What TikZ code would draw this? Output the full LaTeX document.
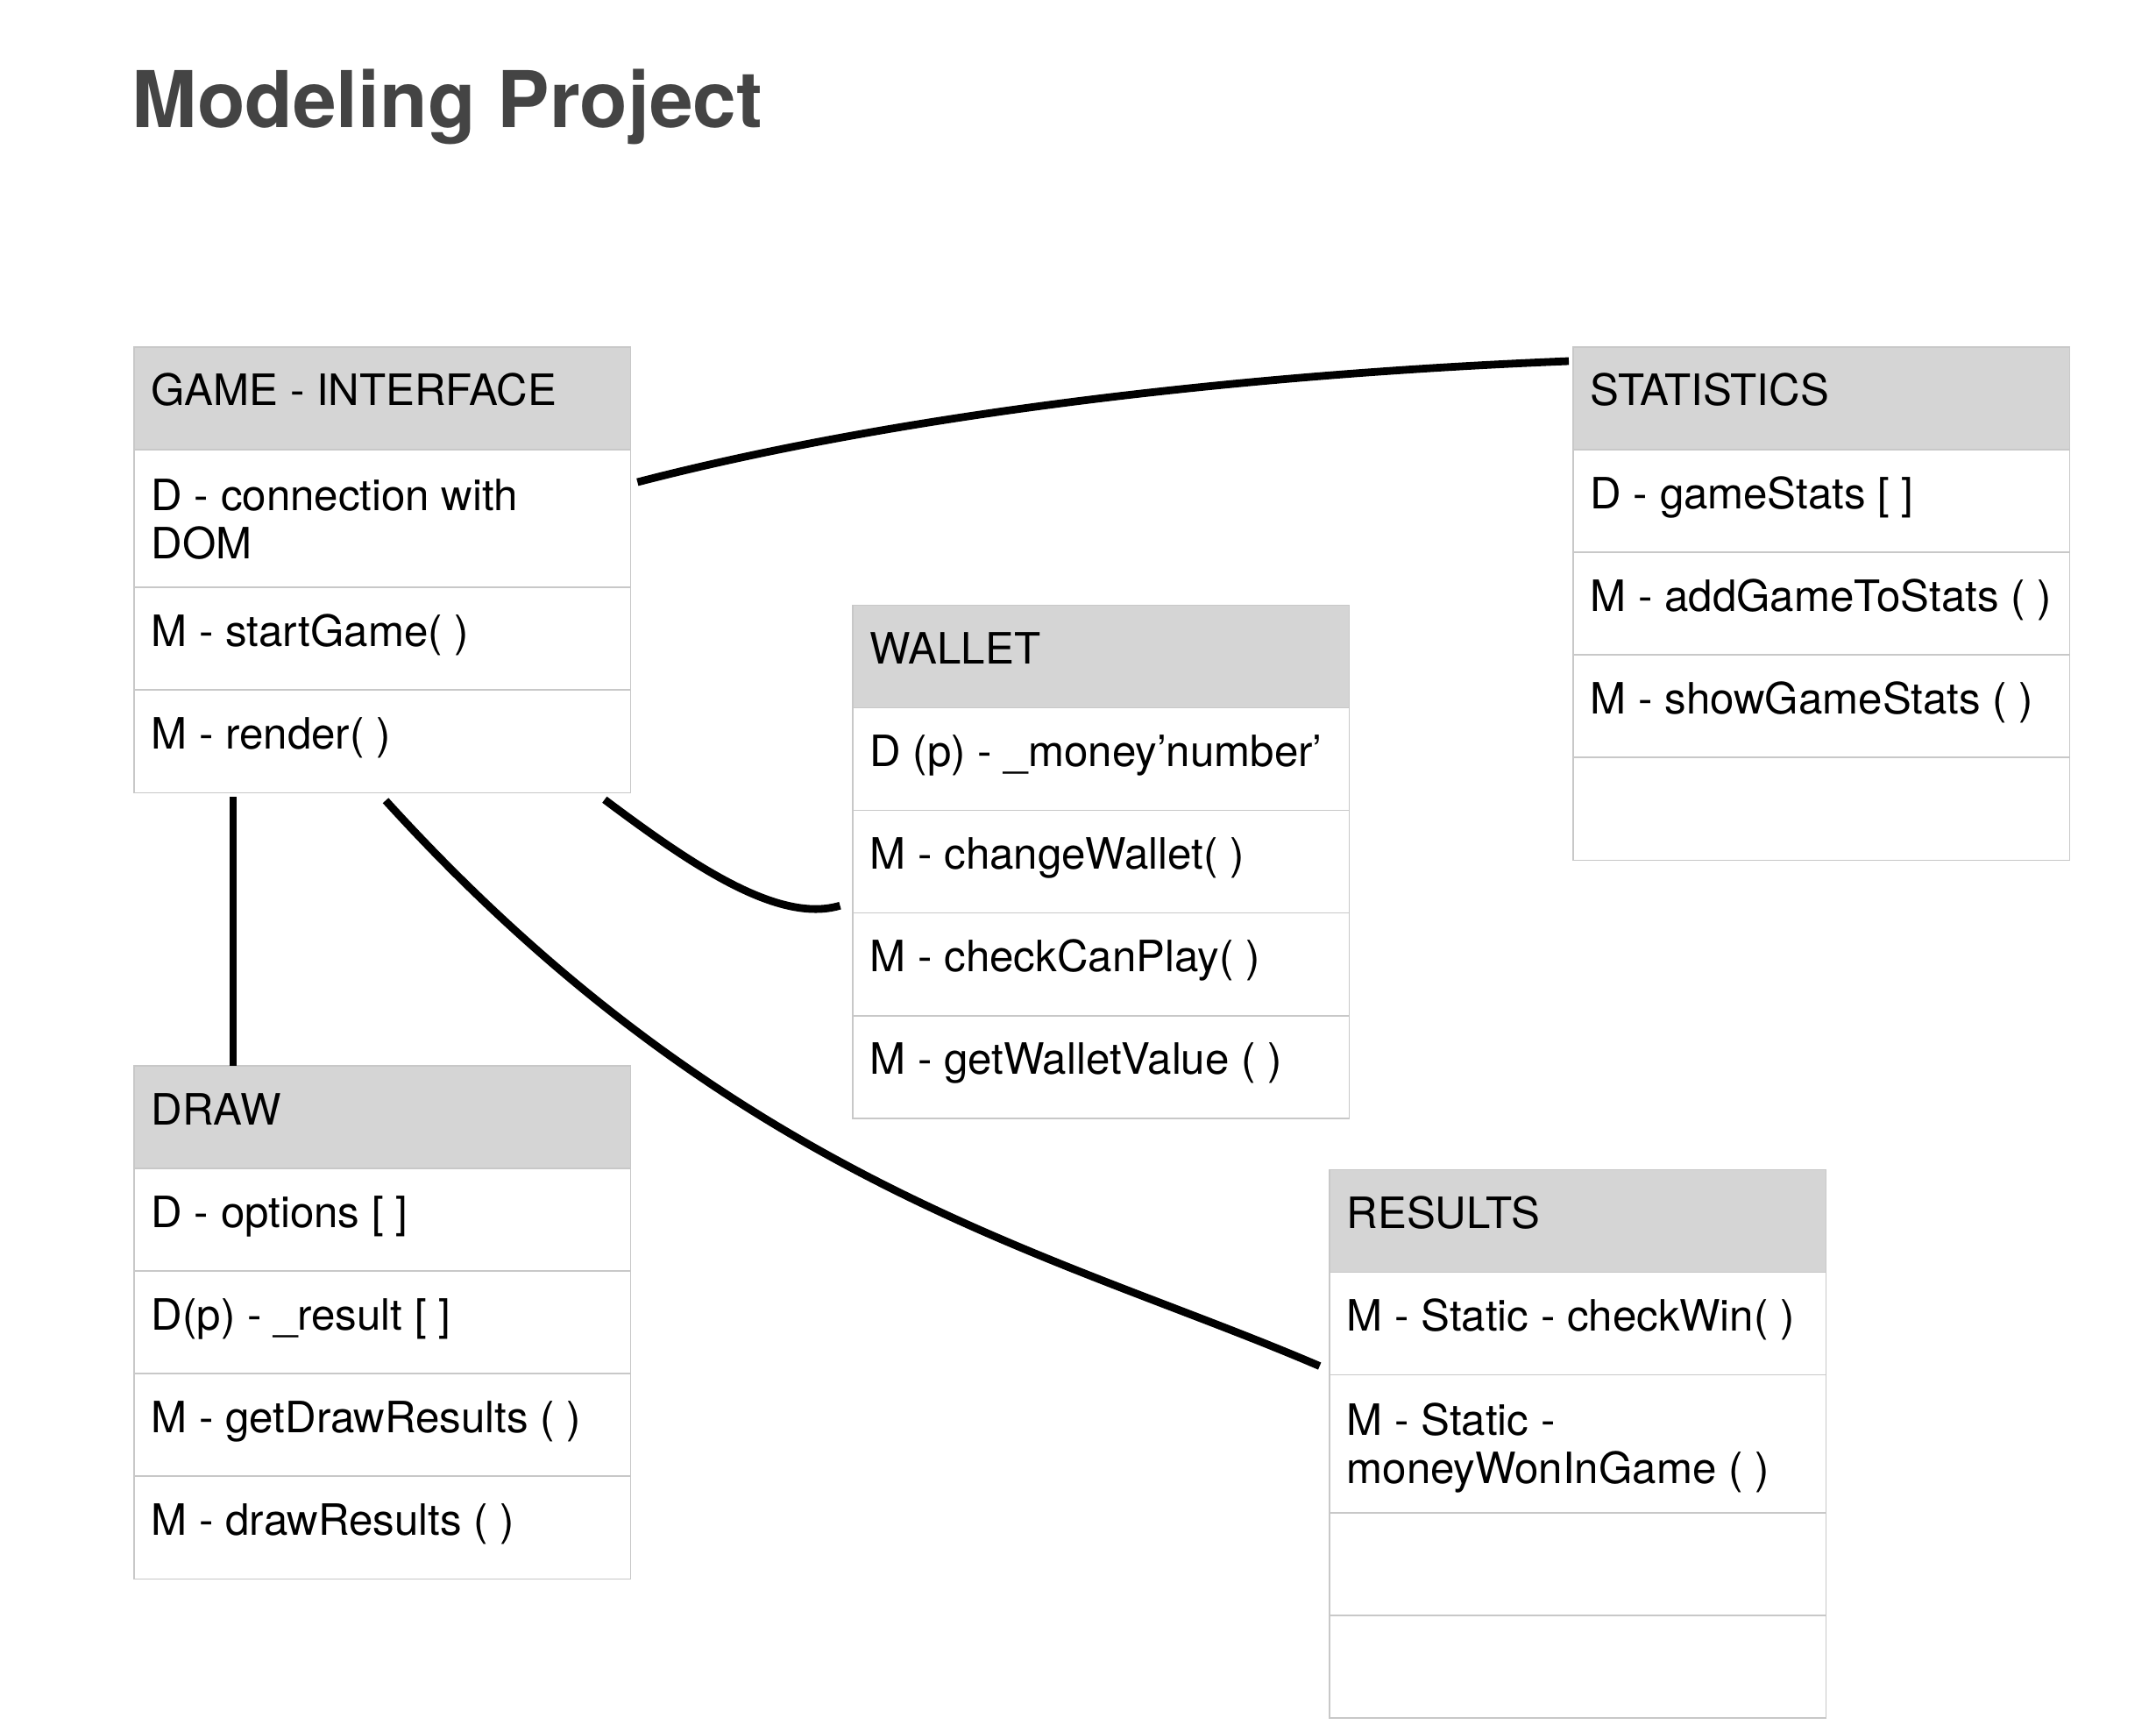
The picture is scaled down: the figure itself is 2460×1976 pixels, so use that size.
\documentclass[tikz,border=0pt]{standalone}
\usepackage{fontspec}
\setmainfont{TeX Gyre Heros}
\usetikzlibrary{calc}
\definecolor{boxline}{RGB}{200,200,200}
\definecolor{hdrfill}{RGB}{213,213,213}
\definecolor{titlegray}{RGB}{68,68,68}
\newcommand\rowfont{\fontsize{14}{15.7}\selectfont}
\newcommand\twolines[2]{\parbox[t]{5.2cm}{\rowfont #1\\#2}}
\tikzset{
  hdr/.style={draw=boxline, fill=hdrfill, line width=0.45pt, minimum width=5.66cm,
    minimum height=1.17cm, anchor=north west, inner sep=0pt, outer sep=0pt},
  cell/.style={hdr, fill=white},
  dcell/.style={cell, minimum height=1.57cm},
  txt/.style={anchor=base west, inner sep=0pt, font=\rowfont, text=black},
  conn/.style={line width=0.088cm, black},
}
\begin{document}
\begin{tikzpicture}[x=0.01cm, y=-0.01cm]
\useasboundingbox[fill=white] (0,0) rectangle (2460,1976);

% title
\node[anchor=base west, inner sep=0pt, text=titlegray,
      font=\fontsize{25.4}{30}\selectfont\bfseries] (title) at (150,146) {Modeling Project};

% GAME - INTERFACE
\node[hdr]  (gi0) at (153,396) {};
\node[dcell] (gi1) at (gi0.south west) {};
\node[cell] (gi2) at (gi1.south west) {};
\node[cell] (gi3) at (gi2.south west) {};
\node[txt] (gi0t) at ($(gi0.north west)+(19,67)$) {GAME - INTERFACE};
\node[txt] (gi1t) at ($(gi1.north west)+(19,69)$) {\twolines{D - connection with}{DOM}};
\node[txt] (gi2t) at ($(gi2.north west)+(19,67)$) {M - startGame( )};
\node[txt] (gi3t) at ($(gi3.north west)+(19,67)$) {M - render( )};

% STATISTICS
\node[hdr]  (st0) at (1795,396) {};
\node[cell] (st1) at (st0.south west) {};
\node[cell] (st2) at (st1.south west) {};
\node[cell] (st3) at (st2.south west) {};
\node[cell] (st4) at (st3.south west) {};
\node[txt] (st0t) at ($(st0.north west)+(19,67)$) {STATISTICS};
\node[txt] (st1t) at ($(st1.north west)+(19,67)$) {D - gameStats [ ]};
\node[txt] (st2t) at ($(st2.north west)+(19,67)$) {M - addGameToStats ( )};
\node[txt] (st3t) at ($(st3.north west)+(19,67)$) {M - showGameStats ( )};

% WALLET
\node[hdr]  (wa0) at (973,690.5) {};
\node[cell] (wa1) at (wa0.south west) {};
\node[cell] (wa2) at (wa1.south west) {};
\node[cell] (wa3) at (wa2.south west) {};
\node[cell] (wa4) at (wa3.south west) {};
\node[txt] (wa0t) at ($(wa0.north west)+(19,67)$) {WALLET};
\node[txt] (wa1t) at ($(wa1.north west)+(19,67)$) {D (p) - \_money’number’};
\node[txt] (wa2t) at ($(wa2.north west)+(19,67)$) {M - changeWallet( )};
\node[txt] (wa3t) at ($(wa3.north west)+(19,67)$) {M - checkCanPlay( )};
\node[txt] (wa4t) at ($(wa4.north west)+(19,67)$) {M - getWalletValue ( )};

% DRAW
\node[hdr]  (dr0) at (153,1216) {};
\node[cell] (dr1) at (dr0.south west) {};
\node[cell] (dr2) at (dr1.south west) {};
\node[cell] (dr3) at (dr2.south west) {};
\node[cell] (dr4) at (dr3.south west) {};
\node[txt] (dr0t) at ($(dr0.north west)+(19,67)$) {DRAW};
\node[txt] (dr1t) at ($(dr1.north west)+(19,67)$) {D - options [ ]};
\node[txt] (dr2t) at ($(dr2.north west)+(19,67)$) {D(p) - \_result [ ]};
\node[txt] (dr3t) at ($(dr3.north west)+(19,67)$) {M - getDrawResults ( )};
\node[txt] (dr4t) at ($(dr4.north west)+(19,67)$) {M - drawResults ( )};

% RESULTS
\node[hdr]   (re0) at (1517,1334.5) {};
\node[cell]  (re1) at (re0.south west) {};
\node[dcell] (re2) at (re1.south west) {};
\node[cell]  (re3) at (re2.south west) {};
\node[cell]  (re4) at (re3.south west) {};
\node[txt] (re0t) at ($(re0.north west)+(19,67)$) {RESULTS};
\node[txt] (re1t) at ($(re1.north west)+(19,67)$) {M - Static - checkWin( )};
\node[txt] (re2t) at ($(re2.north west)+(19,69)$) {\twolines{M - Static -}{moneyWonInGame ( )}};

% connectors
\coordinate (gs0) at ($(gi1.north east)+(8,37)$);
\coordinate (gs1) at ($(st0.north west)+(-5,16)$);
\draw[conn] (gs0) .. controls +(280,-72.8) and +(-400,16) .. (gs1);

\coordinate (gd0) at ($(gi3.south west)+(113,5)$);
\coordinate (gd1) at (gd0 |- dr0.north);
\draw[conn] (gd0) -- (gd1);

\coordinate (gw0) at ($(gi3.south east)+(-29.5,8)$);
\coordinate (gw1) at ($(wa3.north west)+(-14.5,-8.5)$);
\draw[conn] (gw0) .. controls +(100,75) and +(-70,21) .. (gw1);

\coordinate (gr0) at ($(gi3.south west)+(287,9)$);
\coordinate (gr1) at ($(re1.south west)+(-11.3,-10.1)$);
\draw[conn] (gr0) .. controls +(400,440) and +(-300,-129) .. (gr1);
\end{tikzpicture}
\end{document}
